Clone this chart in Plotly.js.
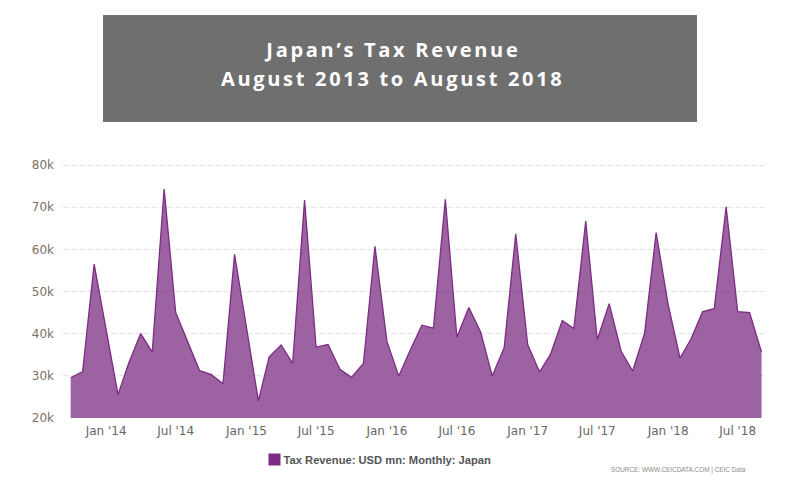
<!DOCTYPE html>
<html>
<head>
<meta charset="utf-8">
<script src="https://cdn.plot.ly/plotly-3.0.1.min.js"></script>
<style>
  html, body { margin: 0; padding: 0; background: #fff; }
  #chart { width: 800px; height: 500px; }
  .infolayer .annotation[data-index="0"] text,
  .infolayer .annotation[data-index="1"] text { letter-spacing: 2.7px; }
  .legend .legendtext { transform: translate(-11px, 0); }
</style>
</head>
<body>
<div id="chart"></div>
<script>
// Months as positioned on the reference chart's time axis
const months = [
  "2013-10-01","2013-11-01","2013-12-01",
  "2014-01-01","2014-02-01","2014-03-01","2014-04-01","2014-05-01","2014-06-01",
  "2014-07-01","2014-08-01","2014-09-01","2014-10-01","2014-11-01","2014-12-01",
  "2015-01-01","2015-02-01","2015-03-01","2015-04-01","2015-05-01","2015-06-01",
  "2015-07-01","2015-08-01","2015-09-01","2015-10-01","2015-11-01","2015-12-01",
  "2016-01-01","2016-02-01","2016-03-01","2016-04-01","2016-05-01","2016-06-01",
  "2016-07-01","2016-08-01","2016-09-01","2016-10-01","2016-11-01","2016-12-01",
  "2017-01-01","2017-02-01","2017-03-01","2017-04-01","2017-05-01","2017-06-01",
  "2017-07-01","2017-08-01","2017-09-01","2017-10-01","2017-11-01","2017-12-01",
  "2018-01-01","2018-02-01","2018-03-01","2018-04-01","2018-05-01","2018-06-01",
  "2018-07-01","2018-08-01","2018-09-01"
];

// Tax Revenue: USD mn
const taxRevenue = [
  29500, 31000, 56500,
  40500, 25500, 33000, 40000, 35600, 74300,
  45000, 38000, 31200, 30300, 28100, 58800,
  41000, 24000, 34500, 37300, 32900, 71700,
  36800, 37400, 31500, 29600, 32900, 60700,
  38200, 29900, 35900, 42000, 41300, 71900,
  39100, 46200, 40300, 29900, 36700, 63700,
  37400, 30900, 35000, 43100, 41200, 66700,
  38600, 47100, 35800, 31100, 40100, 64000,
  47000, 34200, 38600, 45200, 45900, 70100,
  45200, 45000, 35600
];

const seriesName = "Tax Revenue: USD mn: Monthly: Japan";
const titleLines = ["Japan\u2019s Tax Revenue", "August 2013 to August 2018"];
const sourceText = "SOURCE: WWW.CEICDATA.COM | CEIC Data";
const yTickVals = [20000, 30000, 40000, 50000, 60000, 70000, 80000];
const yTickText = ["20k", "30k", "40k", "50k", "60k", "70k", "80k"];

const lineColor = "#7b2d83";

const traces = [
  {
    type: "scatter",
    mode: "lines",
    x: months,
    y: taxRevenue,
    fill: "tozeroy",
    fillcolor: "rgba(123,45,131,0.75)",
    line: { color: lineColor, width: 1.3 },
    showlegend: false,
    hoverinfo: "x+y"
  },
  {
    type: "bar",
    x: [months[0]],
    y: [null],
    name: seriesName,
    marker: { color: lineColor },
    showlegend: true,
    hoverinfo: "skip"
  }
];

const L = 63, R = 35, T = 163, B = 82;
const plotW = 800 - L - R, plotH = 500 - T - B;
const px = v => (v - L) / plotW;
const py = v => (500 - B - v) / plotH;

const layout = {
  width: 800,
  height: 500,
  margin: { l: L, r: R, t: T, b: B },
  paper_bgcolor: "#ffffff",
  plot_bgcolor: "#ffffff",
  showlegend: true,
  xaxis: {
    type: "date",
    range: ["2013-09-11", "2018-09-10"],
    tick0: "2014-01-01",
    dtick: "M6",
    tickformat: "%b '%y",
    showgrid: false,
    zeroline: false,
    showline: false,
    ticks: "",
    ticklabelstandoff: 4,
    tickfont: { family: "DejaVu Sans, sans-serif", size: 12, color: "#666666" }
  },
  yaxis: {
    range: [19950, 80500],
    tickvals: yTickVals,
    ticktext: yTickText,
    showgrid: true,
    gridcolor: "#e3e3e3",
    griddash: "5px,3px",
    gridwidth: 1,
    zeroline: false,
    showline: false,
    ticks: "",
    ticklabelstandoff: 8,
    tickfont: { family: "DejaVu Sans, sans-serif", size: 12, color: "#7d7064" }
  },
  legend: {
    orientation: "h",
    x: px(381),
    xanchor: "center",
    y: py(445),
    yanchor: "top",
    font: { family: "Liberation Sans, Arial, sans-serif", size: 11.2, color: "#555555", weight: "bold" },
    itemwidth: 30
  },
  shapes: [
    {
      type: "rect",
      xref: "paper", yref: "paper",
      x0: px(103), x1: px(697),
      y0: py(122), y1: py(15),
      fillcolor: "#6f6f6f",
      line: { width: 0 },
      layer: "above"
    }
  ],
  annotations: [
    {
      xref: "paper", yref: "paper",
      x: px(392), y: py(49),
      xanchor: "center", yanchor: "middle",
      text: titleLines[0],
      showarrow: false,
      font: { family: "Open Sans, sans-serif", size: 20, color: "#ffffff", weight: "bold" }
    },
    {
      xref: "paper", yref: "paper",
      x: px(392), y: py(78),
      xanchor: "center", yanchor: "middle",
      text: titleLines[1],
      showarrow: false,
      font: { family: "Open Sans, sans-serif", size: 20, color: "#ffffff", weight: "bold" }
    },
    {
      xref: "paper", yref: "paper",
      x: px(748), y: py(470),
      xanchor: "right", yanchor: "middle",
      text: sourceText,
      showarrow: false,
      font: { family: "Liberation Sans, Arial, sans-serif", size: 6.4, color: "#8a8a8a" }
    }
  ]
};

Plotly.newPlot("chart", traces, layout, { displayModeBar: false, staticPlot: true });
</script>
</body>
</html>
